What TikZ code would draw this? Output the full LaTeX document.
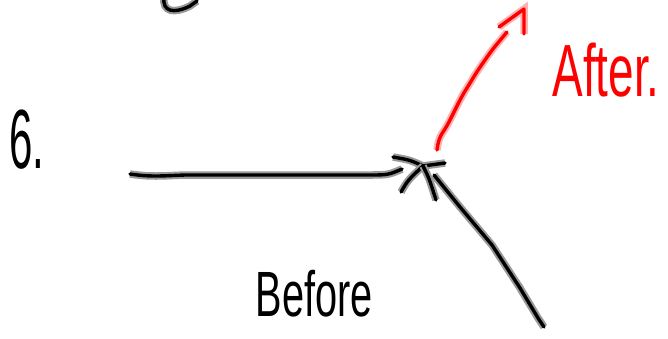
\documentclass[tikz,border=0pt]{standalone}
\usepackage{fontspec}
\setmainfont{Liberation Sans}
\tikzset{
  pen/.style={line width=3.4pt, line cap=round, line join=round, draw=black,
    preaction={draw=black!40, line width=7.5pt}},
  redpen/.style={line width=3.4pt, line cap=round, line join=round, draw=red,
    preaction={draw=red!30, line width=7.5pt}},
  hand/.style={inner sep=0pt, anchor=center}
}
\begin{document}
\begin{tikzpicture}[x=1pt,y=-1pt]
\useasboundingbox (0,0) rectangle (668,338);
% text
\node[hand] (six) at (27,140) {\fontsize{84}{84}\selectfont\scalebox{0.5}[1]{6.}};
\node[hand, text=red] (after) at (606,70) {\fontsize{74}{74}\selectfont\scalebox{0.62}[1]{After.}};
\node[hand] (before) at (314,294) {\fontsize{64}{64}\selectfont\scalebox{0.62}[1]{Before}};
% coordinates
\coordinate (hs) at (130,174);
\coordinate (he) at (402,169);
\coordinate (tip) at (423,166);
\coordinate (ds) at (544,327);
\coordinate (de) at (434,175);
\coordinate (rs) at (437,150);
\coordinate (re) at (507,32);
\coordinate (rtip) at (524,9);
% top fragment
\draw[pen] (164,-3) .. controls (162,12) and (174,14) .. (190,6) -- (197,1);
% horizontal arrow
\draw[pen] (hs) .. controls (150,177) and (160,176) .. (185,175) -- (368,175) .. controls (388,175) .. (he);
\draw[pen] (393,157) .. controls (410,160) .. (tip) -- (445,163);
\draw[pen] (tip) .. controls (408,180) .. (401,192);
% diagonal arrow
\draw[pen] (tip) .. controls (429,178) .. (436,200);
\draw[pen] (de) -- (460,207) -- (492,245) -- (520,288) -- (538,318) -- (ds);
% red arrow
\draw[redpen, rounded corners=6pt] (rs) -- (439,138) -- (447,126) -- (462,96) -- (478,70) -- (492,50) -- (re);
\draw[redpen] (499,27) -- (rtip) -- (524,34);
\end{tikzpicture}
\end{document}
